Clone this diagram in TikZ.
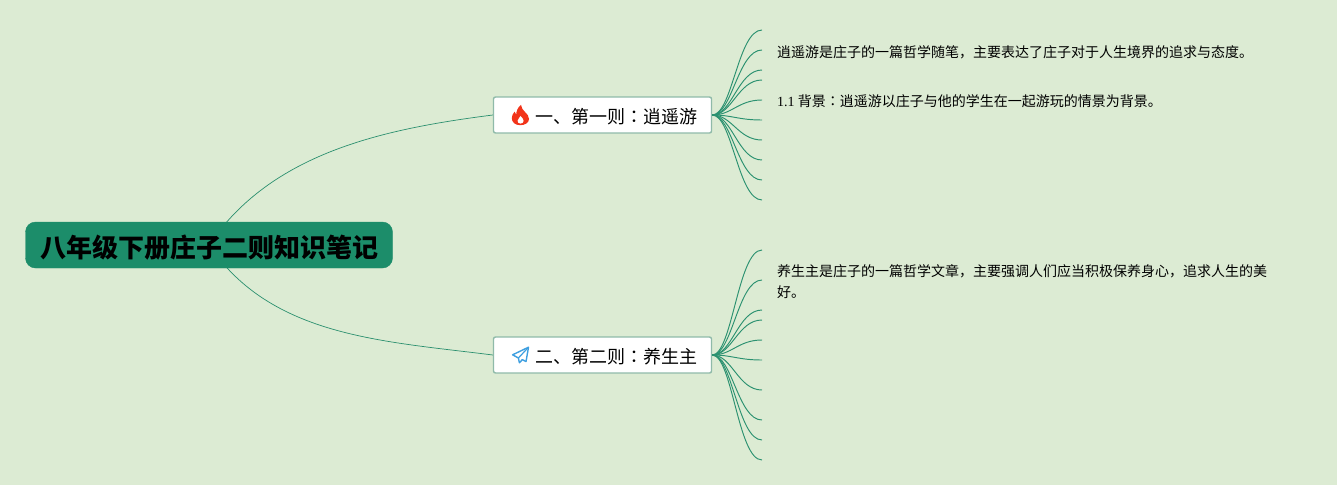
\documentclass[tikz,border=0pt]{standalone}
\usepackage{fontspec}
\setmainfont{Noto Sans CJK SC}
\newfontfamily\latinserif{Liberation Serif}
\newfontfamily\colonfont{Noto Sans CJK TC}
\newcommand{\midcolon}{{\colonfont ：}}
\usetikzlibrary{backgrounds}
\definecolor{pagebg}{HTML}{DCEBD3}
\definecolor{rootfill}{HTML}{1C8D6A}
\definecolor{topicline}{HTML}{8FBAA9}
\definecolor{branch}{HTML}{2B9170}
\definecolor{rootline}{HTML}{2A8F6E}
\definecolor{flame}{HTML}{F2341A}
\definecolor{planeblue}{HTML}{3E9FE0}
\tikzset{
  rootbox/.style={draw=rootfill,fill=rootfill,rounded corners=10pt,minimum width=367pt,minimum height=46pt,inner sep=0pt,text=black,text height=27.8pt,text depth=2pt,font=\fontsize{26}{30}\selectfont\bfseries},
  topicbox/.style={draw=topicline,line width=1.4pt,fill=white,rounded corners=2pt,minimum width=218pt,minimum height=36pt,inner sep=0pt,text=black,text height=19.6pt,text depth=2pt,font=\fontsize{18}{22}\selectfont},
  leaftext/.style={anchor=west,align=left,inner sep=0pt,text=black,font=\fontsize{14}{21}\selectfont},
  rootcurve/.style={draw=rootline,line width=0.7pt},
  leafcurve/.style={draw=branch,line width=0.95pt},
}
\begin{document}
\begin{tikzpicture}[x=1pt,y=-1pt]
\useasboundingbox (0,0) rectangle (1337,485);
\begin{scope}[on background layer]
\fill[pagebg] (0,0) rectangle (1337,485);
\end{scope}
\node[rootbox] (root) at (209,245) {八年级下册庄子二则知识笔记};
\node[topicbox] (t1) at (602.5,115) {\hspace*{27pt}一、第一则\midcolon 逍遥游};
\node[topicbox] (t2) at (602.5,355) {\hspace*{27pt}二、第二则\midcolon 养生主};
\node[leaftext] (x1) at (777,52) {逍遥游是庄子的一篇哲学随笔，主要表达了庄子对于人生境界的追求与态度。};
\node[leaftext] (x2) at (777,101) {{\latinserif 1.1} 背景\midcolon 逍遥游以庄子与他的学生在一起游玩的情景为背景。};
\node[leaftext] (x3) at (777,282) {养生主是庄子的一篇哲学文章，主要强调人们应当积极保养身心，追求人生的美\\好。};
% fire icon
\fill[flame] (520,125.2) .. controls (515,125.2) and (511.8,122) .. (511.8,118.2)
  .. controls (511.8,115.5) and (513,113.5) .. (514.6,111.6)
  .. controls (514.8,113) and (515.3,114) .. (516.2,114.6)
  .. controls (516.2,111) and (518,107) .. (521,104.8)
  .. controls (521.3,108) and (523,110) .. (525,112)
  .. controls (527.5,114.5) and (529,116.5) .. (529,119)
  .. controls (529,122.8) and (525,125.2) .. (520,125.2) -- cycle;
\fill[white] (520.5,123.6) .. controls (518.4,123.6) and (517.4,122) .. (517.6,120.6)
  .. controls (517.8,119) and (519.8,118) .. (520.4,116)
  .. controls (522.2,117.6) and (523.6,119.4) .. (523.6,120.8)
  .. controls (523.6,122.4) and (522.2,123.6) .. (520.5,123.6) -- cycle;
% plane icon
\draw[planeblue,line width=1.4pt,line join=round] (528.5,347.2) -- (512.6,354.8) -- (518.4,358) -- (519.4,362.8) -- (522.3,359.6) -- (526,361.6) -- cycle;
\draw[planeblue,line width=1.2pt] (528.5,347.2) -- (518.4,358);
% leaf end points
\foreach \n/\yy in {1/30,2/50,3/70,4/80,5/100,6/120,7/140,8/160,9/180,10/200}
  \coordinate (a\n) at (762,\yy);
\foreach \n/\yy in {1/250,2/280,3/310,4/320,5/340,6/360,7/390,8/420,9/440,10/460}
  \coordinate (b\n) at (762,\yy);
\begin{scope}[on background layer]
\draw[rootcurve] (root.center) .. controls +(62,-92) and +(-110,14) .. (t1.west);
\draw[rootcurve] (root.center) .. controls +(62,92) and +(-110,-14) .. (t2.west);
\end{scope}
\foreach \n in {1,...,10} {
  \draw[leafcurve] (t1.east) .. controls +(20,0) and +(-24,0) .. (a\n);
  \draw[leafcurve] (t2.east) .. controls +(20,0) and +(-24,0) .. (b\n);
}
\end{tikzpicture}
\end{document}
